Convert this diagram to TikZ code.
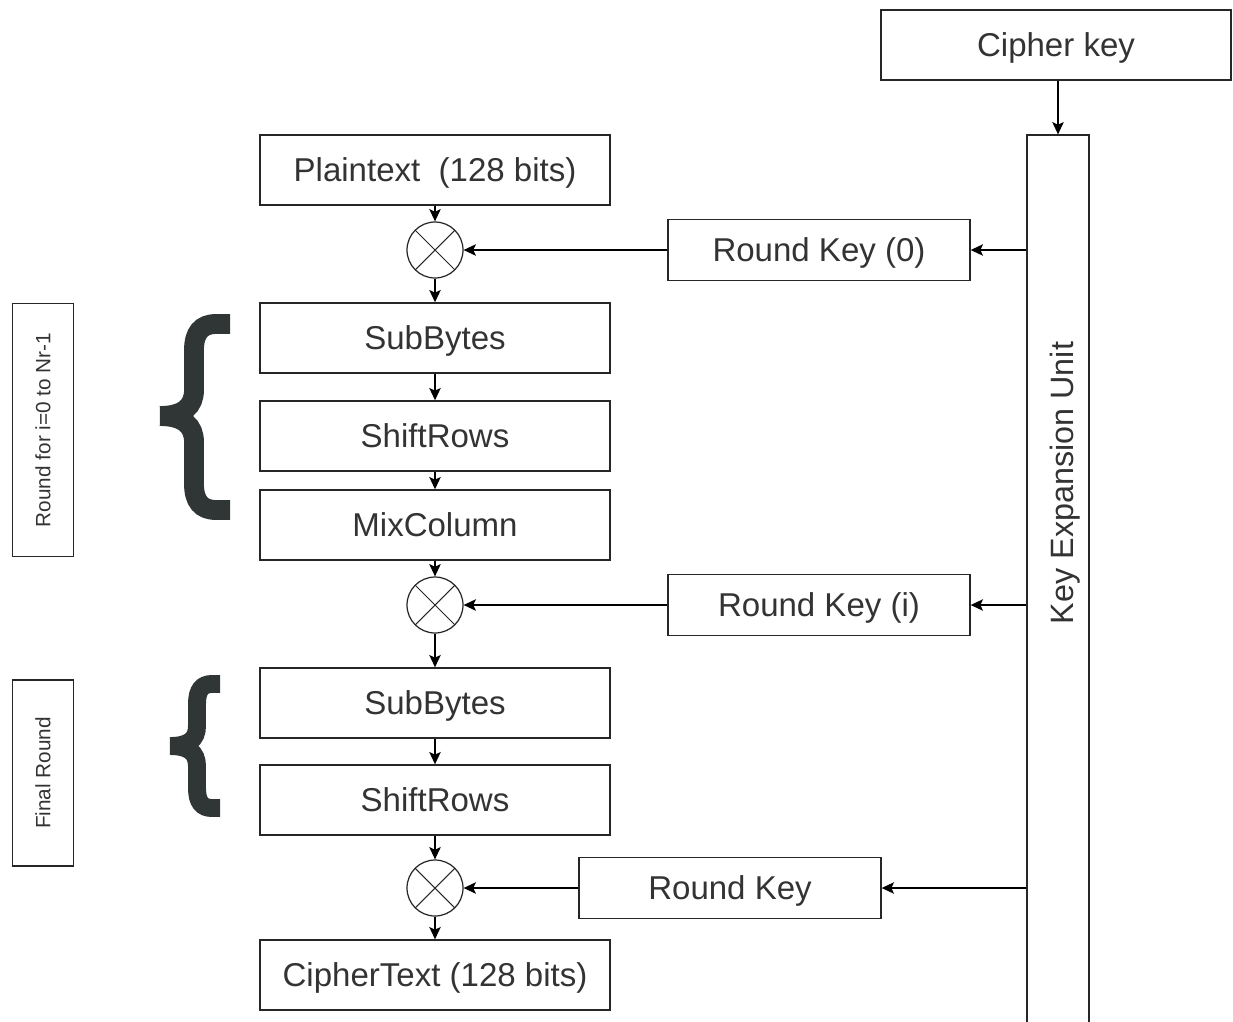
\documentclass[tikz,border=0pt]{standalone}
\usepackage{fontspec}
\setmainfont{Liberation Sans}
\usetikzlibrary{arrows.meta}

\definecolor{txtgray}{RGB}{51,51,51}
\definecolor{bracegray}{RGB}{48,54,54}

\tikzset{
  block/.style={draw=black!85, line width=0.8pt, minimum width=7cm, minimum height=1.4cm,
    inner sep=0pt, text=txtgray, font=\fontsize{18.8}{22}\selectfont,
    text height=13.5pt, text depth=0pt},
  keyblock/.style={block, minimum width=6.04cm, minimum height=1.23cm},
  sidebox/.style={draw=black!85, line width=0.8pt, rotate=90, minimum height=1.22cm,
    inner sep=0pt, text=txtgray, font=\fontsize{11.8}{14}\selectfont,
    text height=8.5pt, text depth=0pt},
  xorop/.style={draw=black!85, circle, line width=0.7pt, minimum size=1.12cm, inner sep=0pt,
    path picture={\draw[line width=0.6pt]
      (path picture bounding box.north west) -- (path picture bounding box.south east)
      (path picture bounding box.north east) -- (path picture bounding box.south west);}},
  curly/.style={draw=bracegray, line width=11pt, line cap=butt},
  flow/.style={line width=0.8pt, -{Stealth[length=7pt,width=6.5pt,inset=1.5pt]}}
}

\begin{document}
\begin{tikzpicture}[x=0.02cm, y=-0.02cm]
  \useasboundingbox (0,0) rectangle (1233,1021);
  \clip (0,0) rectangle (1233,1021);

  % key side
  \node[block] (cipher) at (1056,45) {Cipher key};
  \node[draw=black!85, line width=0.8pt, minimum width=1.24cm, minimum height=19.2cm, inner sep=0pt] (keu) at (1058,615) {};
  \node[rotate=90, text=txtgray, font=\fontsize{18.4}{22}\selectfont, text height=13.2pt, text depth=0pt] (keulabel) at (1062,483) {Key Expansion Unit};
  \node[keyblock] (rk0) at (819,250) {Round Key (0)};
  \node[keyblock] (rki) at (819,605) {Round Key (i)};
  \node[keyblock] (rkn) at (730,888) {Round Key};

  % data path
  \node[block] (plain) at (435,170) {Plaintext\ \ (128 bits)};
  \node[xorop] (xor1) at (435,250) {};
  \node[block] (sub1) at (435,338) {SubBytes};
  \node[block] (shift1) at (435,436) {ShiftRows};
  \node[block] (mix) at (435,525) {MixColumn};
  \node[xorop] (xor2) at (435,605) {};
  \node[block] (sub2) at (435,703) {SubBytes};
  \node[block] (shift2) at (435,800) {ShiftRows};
  \node[xorop] (xor3) at (435,888) {};
  \node[block] (cipherout) at (435,975) {CipherText (128 bits)};

  % round labels
  \node[sidebox, minimum width=5.06cm] (roundlbl) at (43,430) {Round for i=0 to Nr-1};
  \node[sidebox, minimum width=3.72cm] (finallbl) at (43,773) {Final Round};

  % braces
  \draw[curly, line width=11.3pt] (230,324) -- (216,324) .. controls (201,324) and (194,333) .. (194,350)
    -- (194,390) .. controls (194,406) and (184,416) .. (160,416);
  \draw[curly, line width=11.3pt] (230,510) -- (216,510) .. controls (201,510) and (194,501) .. (194,484)
    -- (194,442) .. controls (194,426) and (184,416) .. (160,416);
  \draw[curly, line width=10.2pt] (220,684) -- (212,684) .. controls (202,684) and (197,690) .. (197,704)
    -- (197,726) .. controls (197,740) and (188,746) .. (170,746);
  \draw[curly, line width=10.2pt] (220,808) -- (212,808) .. controls (202,808) and (197,802) .. (197,788)
    -- (197,766) .. controls (197,752) and (188,746) .. (170,746);

  % connectors
  \draw[flow] (cipher.south -| keu.north) -- (keu.north);
  \draw[flow] (rk0 -| keu.west) -- (rk0);
  \draw[flow] (rki -| keu.west) -- (rki);
  \draw[flow] (rkn -| keu.west) -- (rkn);
  \draw[flow] (rk0) -- (xor1);
  \draw[flow] (rki) -- (xor2);
  \draw[flow] (rkn) -- (xor3);
  \draw[flow] (plain) -- (xor1);
  \draw[flow] (xor1) -- (sub1);
  \draw[flow] (sub1) -- (shift1);
  \draw[flow] (shift1) -- (mix);
  \draw[flow] (mix) -- (xor2);
  \draw[flow] (xor2) -- (sub2);
  \draw[flow] (sub2) -- (shift2);
  \draw[flow] (shift2) -- (xor3);
  \draw[flow] (xor3) -- (cipherout);
\end{tikzpicture}
\end{document}
